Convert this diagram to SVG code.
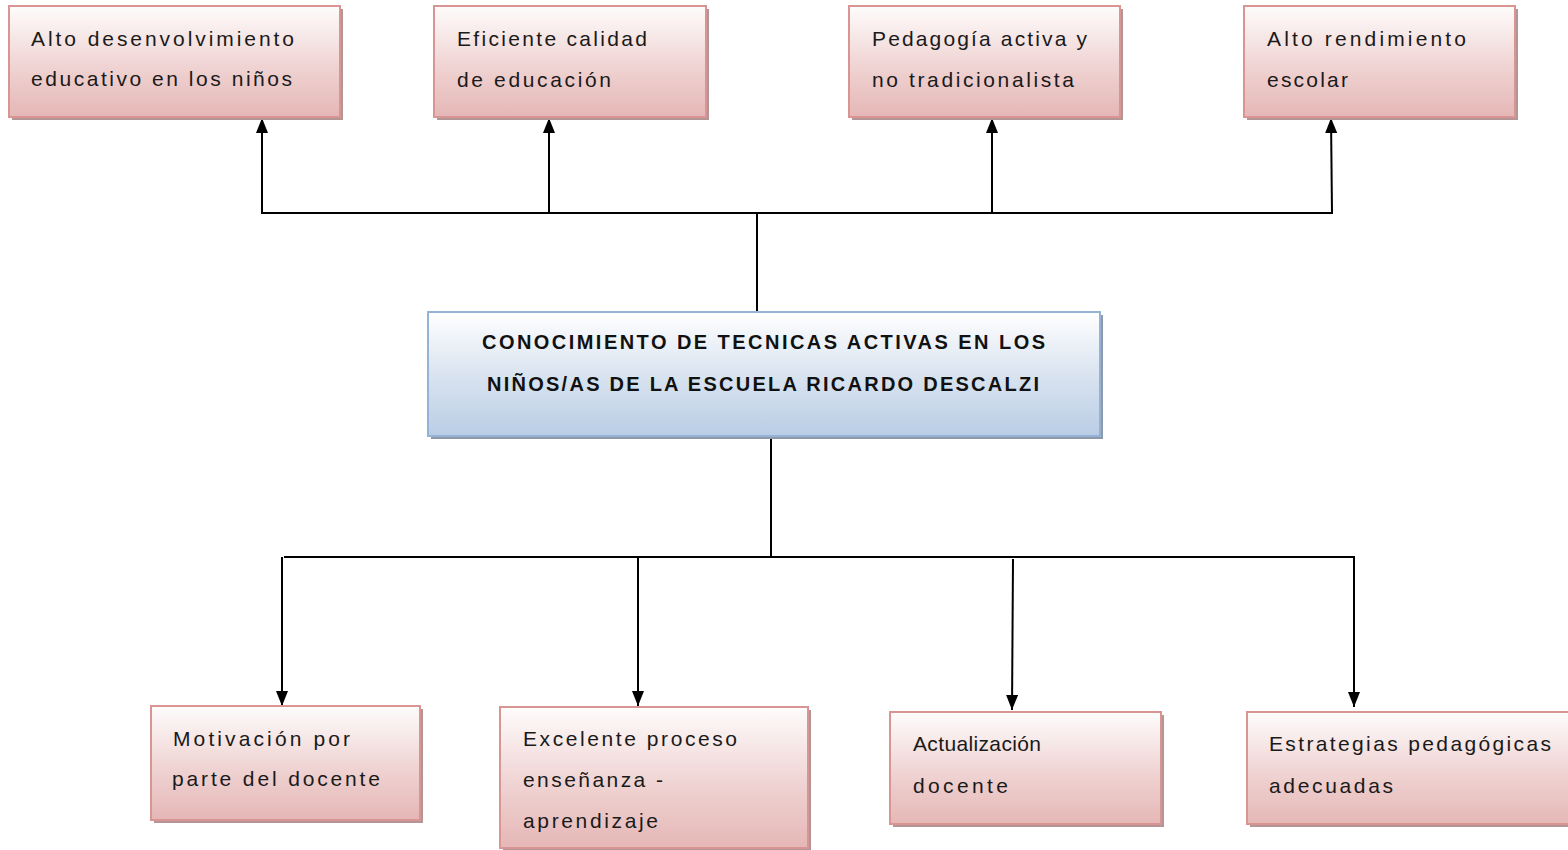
<svg xmlns="http://www.w3.org/2000/svg" width="1568" height="850" viewBox="0 0 1568 850">
<defs>
<linearGradient id="pink" x1="0" y1="0" x2="0" y2="1">
<stop offset="0" stop-color="#fefcfc"/>
<stop offset="0.55" stop-color="#efd3d2"/>
<stop offset="1" stop-color="#e5b7b6"/>
</linearGradient>
<linearGradient id="blue" x1="0" y1="0" x2="0" y2="1">
<stop offset="0" stop-color="#ffffff"/>
<stop offset="0.5" stop-color="#dae4f0"/>
<stop offset="1" stop-color="#b9cde5"/>
</linearGradient>
<marker id="ah" markerWidth="16" markerHeight="12" refX="15" refY="6" orient="auto" markerUnits="userSpaceOnUse" viewBox="0 0 16 12">
<path d="M0,0 L15,6 L0,12 Z" fill="#000"/>
</marker>
<style>
.shadow{fill:#b49595}
.bshadow{fill:#8e9aaa}
.box{fill:url(#pink);stroke:#d99594;stroke-width:2}
.cbox{fill:url(#blue);stroke:#95b3d7;stroke-width:2}
.t{font-family:"Liberation Sans",Arial,sans-serif;font-size:21px;fill:#1a1a1a}
.c{font-family:"Liberation Sans",Arial,sans-serif;font-size:20px;font-weight:bold;fill:#111}
.ln{stroke:#000;stroke-width:2;fill:none}
.ar{stroke:#000;stroke-width:2;fill:none;marker-end:url(#ah)}
</style>
</defs>
<rect width="1568" height="850" fill="#fff"/>

<g id="connectors">
<line class="ln" x1="261" y1="213" x2="1333" y2="213"/>
<line class="ar" x1="262" y1="213" x2="262" y2="118"/>
<line class="ar" x1="549" y1="213" x2="549" y2="118"/>
<line class="ar" x1="992" y1="213" x2="992" y2="118"/>
<line class="ar" x1="1332" y1="213" x2="1331" y2="118"/>
<line class="ln" x1="757" y1="213" x2="757" y2="312"/>
<line class="ln" x1="771" y1="436" x2="771" y2="557"/>
<line class="ln" x1="284" y1="557" x2="1355" y2="557"/>
<line class="ar" x1="282" y1="557" x2="282" y2="706"/>
<line class="ar" x1="638" y1="557" x2="638" y2="706"/>
<line class="ar" x1="1013" y1="559" x2="1012" y2="710"/>
<line class="ar" x1="1354" y1="557" x2="1354" y2="707"/>
</g>

<g id="n1">
<rect class="shadow" x="12" y="9" width="331" height="111"/>
<rect class="box" x="9" y="6" width="331" height="111"/>
<text class="t" x="31" y="46" textLength="263" lengthAdjust="spacing">Alto desenvolvimiento</text>
<text class="t" x="31" y="86" textLength="261" lengthAdjust="spacing">educativo en los niños</text>
</g>
<g id="n2">
<rect class="shadow" x="437" y="9" width="272" height="111"/>
<rect class="box" x="434" y="6" width="272" height="111"/>
<text class="t" x="457" y="46" textLength="190" lengthAdjust="spacing">Eficiente calidad</text>
<text class="t" x="457" y="87" textLength="154" lengthAdjust="spacing">de educación</text>
</g>
<g id="n3">
<rect class="shadow" x="852" y="9" width="271" height="111"/>
<rect class="box" x="849" y="6" width="271" height="111"/>
<text class="t" x="872" y="46" textLength="215" lengthAdjust="spacing">Pedagogía activa y</text>
<text class="t" x="872" y="87" textLength="202" lengthAdjust="spacing">no tradicionalista</text>
</g>
<g id="n4">
<rect class="shadow" x="1247" y="9" width="271" height="111"/>
<rect class="box" x="1244" y="6" width="271" height="111"/>
<text class="t" x="1267" y="46" textLength="199" lengthAdjust="spacing">Alto rendimiento</text>
<text class="t" x="1267" y="87" textLength="81" lengthAdjust="spacing">escolar</text>
</g>

<g id="center">
<rect class="bshadow" x="431" y="315" width="672" height="124"/>
<rect class="cbox" x="428" y="312" width="672" height="124"/>
<text class="c" x="482" y="349" textLength="563" lengthAdjust="spacing">CONOCIMIENTO DE TECNICAS ACTIVAS EN LOS</text>
<text class="c" x="487" y="391" textLength="552" lengthAdjust="spacing">NIÑOS/AS DE LA ESCUELA RICARDO DESCALZI</text>
</g>

<g id="n5">
<rect class="shadow" x="154" y="709" width="269" height="114"/>
<rect class="box" x="151" y="706" width="269" height="114"/>
<text class="t" x="173" y="746" textLength="177" lengthAdjust="spacing">Motivación por</text>
<text class="t" x="172" y="786" textLength="208" lengthAdjust="spacing">parte del docente</text>
</g>
<g id="n6">
<rect class="shadow" x="503" y="710" width="308" height="141"/>
<rect class="box" x="500" y="707" width="308" height="141"/>
<text class="t" x="523" y="746" textLength="214" lengthAdjust="spacing">Excelente proceso</text>
<text class="t" x="523" y="787" textLength="140" lengthAdjust="spacing">enseñanza -</text>
<text class="t" x="523" y="828" textLength="135" lengthAdjust="spacing">aprendizaje</text>
</g>
<g id="n7">
<rect class="shadow" x="893" y="715" width="271" height="112"/>
<rect class="box" x="890" y="712" width="271" height="112"/>
<text class="t" x="913" y="751" textLength="128" lengthAdjust="spacing">Actualización</text>
<text class="t" x="913" y="793" textLength="95" lengthAdjust="spacing">docente</text>
</g>
<g id="n8">
<rect class="shadow" x="1250" y="715" width="330" height="112"/>
<rect class="box" x="1247" y="712" width="330" height="112"/>
<text class="t" x="1269" y="751" textLength="282" lengthAdjust="spacing">Estrategias pedagógicas</text>
<text class="t" x="1269" y="793" textLength="124" lengthAdjust="spacing">adecuadas</text>
</g>
</svg>
